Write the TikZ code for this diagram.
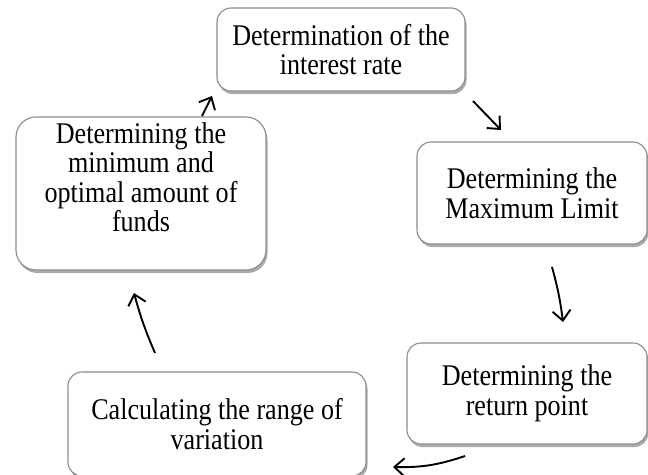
\documentclass[tikz,border=0pt]{standalone}
\usepackage{fontspec}
\setmainfont[FakeStretch=0.87]{Liberation Serif}
\usetikzlibrary{arrows.meta,shadows}
\tikzset{
  stagefont/.style={font=\fontsize{30}{29.5}\selectfont},
  stagebox/.style={draw=black!45, line width=1.1pt, fill=white, rounded corners=14pt,
    drop shadow={shadow xshift=1.5pt, shadow yshift=-3pt, fill=black!55, opacity=0.6},
    align=center, inner sep=0pt, stagefont},
  flow/.style={line width=1.9pt, -{Straight Barb[length=10pt,width=18pt]}},
}
\begin{document}
\begin{tikzpicture}[x=1pt,y=-1pt]
\useasboundingbox[fill=white] (0,0) rectangle (648,474);
\node[stagebox, minimum width=248pt, minimum height=83pt] (b1) at (341,49.5)
  {Determination of the\\interest rate};
\node[stagebox, minimum width=230pt, minimum height=102pt] (b2) at (532,193)
  {Determining the\\Maximum Limit};
\node[stagebox, minimum width=240pt, minimum height=101pt] (b3) at (527,393.5)
  {Determining the\\return point};
\node[stagebox, minimum width=298pt, minimum height=104pt] (b4) at (217,424)
  {Calculating the range of\\variation};
\node[stagebox, rounded corners=20pt, minimum width=250pt, minimum height=153pt] (b5) at (141,193.5) {};
\node[anchor=north, align=center, inner sep=0pt, stagefont] (t5) at (141,122)
  {Determining the\\minimum and\\optimal amount of\\funds};
\coordinate (a1s) at (202,116); \coordinate (a1e) at (212,96);
\coordinate (a2s) at (473,101); \coordinate (a2e) at (501,130);
\coordinate (a3s) at (552,267); \coordinate (a3e) at (563,322);
\coordinate (a4s) at (465,456); \coordinate (a4e) at (393,467);
\coordinate (a5s) at (155,353); \coordinate (a5e) at (134,293);
\draw[flow] (a1s) -- (a1e);
\draw[flow] (a2s) -- (a2e);
\draw[flow] (a3s) to[bend left=4] (a3e);
\draw[flow] (a4s) to[bend left=10] (a4e);
\draw[flow] (a5s) to[bend left=4] (a5e);
\end{tikzpicture}
\end{document}
